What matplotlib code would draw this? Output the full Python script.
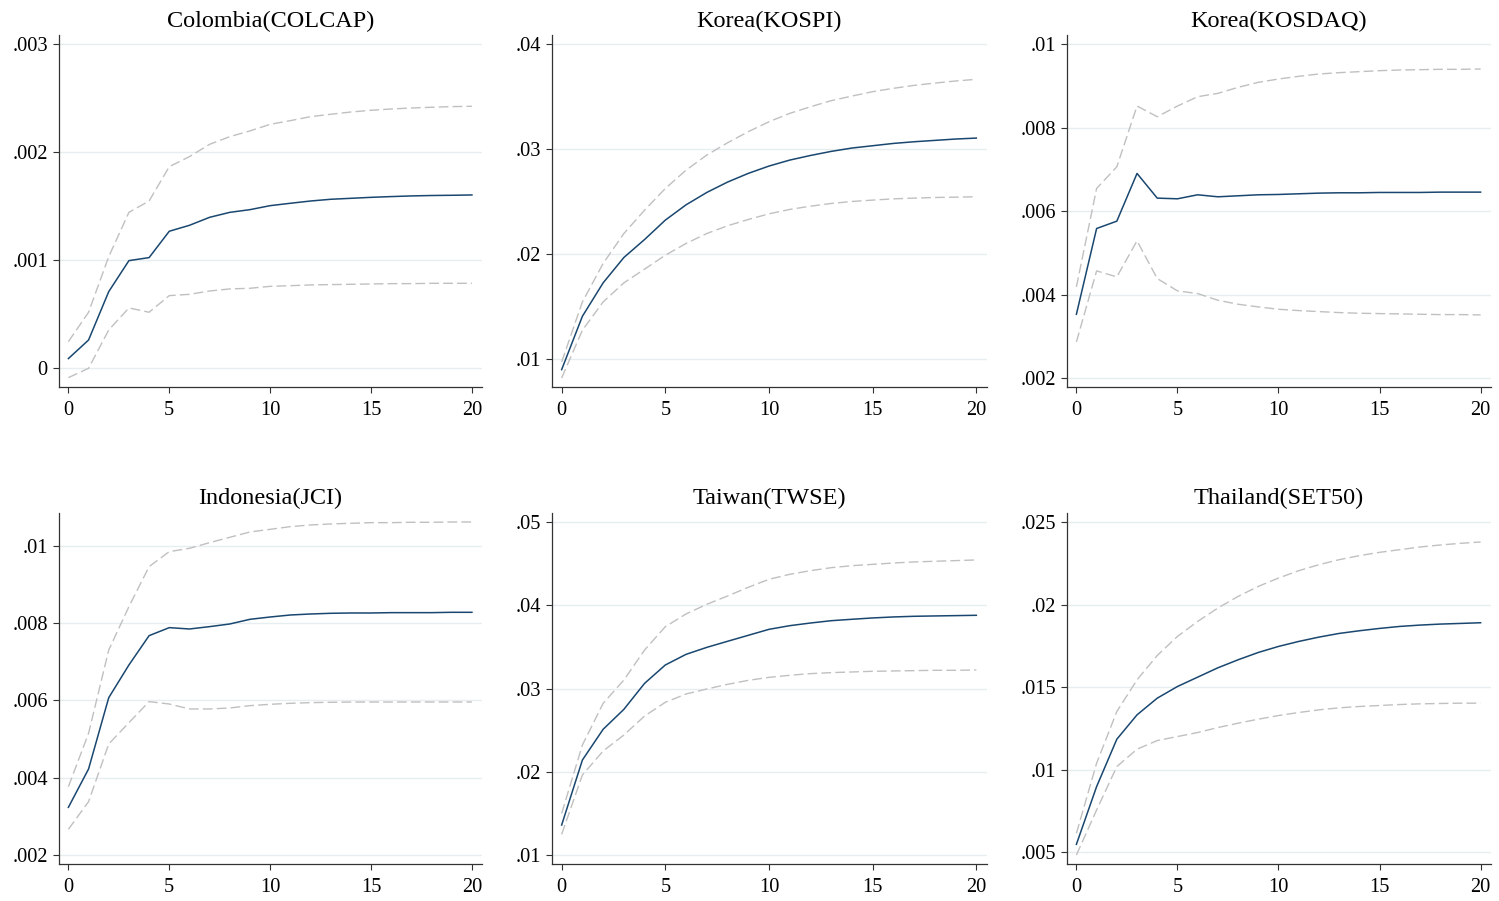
import matplotlib
matplotlib.use("Agg")
import matplotlib.pyplot as plt

plt.rcParams['font.family'] = ['Liberation Serif', 'DejaVu Serif']

steps = list(range(21))

titles = ["Colombia(COLCAP)", "Korea(KOSPI)", "Korea(KOSDAQ)",
          "Indonesia(JCI)", "Taiwan(TWSE)", "Thailand(SET50)"]

col_irf = [0.00009, 0.000262, 0.00071, 0.000997, 0.001025, 0.001269, 0.001324, 0.001398, 0.001444, 0.001469,
           0.001506, 0.001528, 0.001549, 0.001565, 0.001574, 0.001583, 0.00159, 0.001596, 0.0016, 0.001602, 0.001605]
col_hi = [0.000247, 0.000519, 0.001034, 0.001444, 0.001549, 0.001867, 0.00196, 0.002074, 0.002145, 0.002198,
          0.002259, 0.002293, 0.00233, 0.002352, 0.002373, 0.002389, 0.002401, 0.00241, 0.002417, 0.002423, 0.002426]
col_lo = [-0.000086, 0.0, 0.000355, 0.000559, 0.000519, 0.000673, 0.000685, 0.000716, 0.000735, 0.000741,
          0.000759, 0.000765, 0.000772, 0.000775, 0.000778, 0.000781, 0.000784, 0.000784, 0.000787, 0.000787, 0.000787]

kospi_irf = [0.00895, 0.01404, 0.01723, 0.01965, 0.02137, 0.02322, 0.02468, 0.02586, 0.02685, 0.02768,
             0.02838, 0.02895, 0.02939, 0.02978, 0.0301, 0.03032, 0.03054, 0.0307, 0.03083, 0.03096, 0.03105]
kospi_hi = [0.00968, 0.01541, 0.01908, 0.02194, 0.02417, 0.02624, 0.02799, 0.02943, 0.0306, 0.03166,
            0.03261, 0.03341, 0.03404, 0.03462, 0.03506, 0.03548, 0.0358, 0.03608, 0.0363, 0.0365, 0.03666]
kospi_lo = [0.00815, 0.01271, 0.01541, 0.01723, 0.01854, 0.01987, 0.02099, 0.02194, 0.02268, 0.02328,
            0.02382, 0.02424, 0.02455, 0.02481, 0.025, 0.02513, 0.02525, 0.02532, 0.02538, 0.02541, 0.02545]

kosdaq_irf = [0.003528, 0.005584, 0.00576, 0.006904, 0.006312, 0.006296, 0.006392, 0.006344, 0.006368, 0.006392,
              0.0064, 0.006416, 0.006432, 0.00644, 0.00644, 0.006448, 0.006448, 0.006448, 0.006456, 0.006456, 0.006456]
kosdaq_hi = [0.004184, 0.006544, 0.007064, 0.00852, 0.008264, 0.00852, 0.008744, 0.008824, 0.008968, 0.009088,
             0.009168, 0.009232, 0.009288, 0.00932, 0.009344, 0.009368, 0.009384, 0.009392, 0.0094, 0.0094, 0.009408]
kosdaq_lo = [0.002864, 0.004568, 0.004424, 0.005288, 0.004384, 0.004088, 0.004024, 0.003864, 0.003768, 0.003704,
             0.003648, 0.003616, 0.003592, 0.003568, 0.003552, 0.003544, 0.003536, 0.003528, 0.00352, 0.00352, 0.003512]

jci_irf = [0.003228, 0.004223, 0.006073, 0.006921, 0.007682, 0.00789, 0.007855, 0.007916, 0.007985, 0.008106,
           0.008166, 0.008218, 0.008244, 0.008262, 0.00827, 0.00827, 0.008279, 0.008279, 0.008279, 0.008288, 0.008288]
jci_hi = [0.003764, 0.005148, 0.00731, 0.008435, 0.009473, 0.009862, 0.009948, 0.010095, 0.010234, 0.010372,
          0.010441, 0.01051, 0.010554, 0.01058, 0.010597, 0.010614, 0.010614, 0.010623, 0.010623, 0.010631, 0.010631]
jci_lo = [0.002657, 0.003375, 0.004871, 0.005425, 0.00597, 0.005909, 0.00578, 0.00578, 0.005806, 0.005866,
          0.005901, 0.005927, 0.005944, 0.005953, 0.00596, 0.00596, 0.00596, 0.005961, 0.005961, 0.005961, 0.005961]

twse_irf = [0.01357, 0.02139, 0.02509, 0.02749, 0.03062, 0.03283, 0.03411, 0.03495, 0.03568, 0.0364,
            0.03712, 0.03756, 0.03788, 0.03816, 0.03833, 0.03849, 0.03861, 0.03869, 0.03873, 0.03877, 0.03881]
twse_hi = [0.01497, 0.0232, 0.02821, 0.03102, 0.03463, 0.03744, 0.03897, 0.04013, 0.04113, 0.04218,
           0.04314, 0.04374, 0.04418, 0.04454, 0.04478, 0.04494, 0.0451, 0.04523, 0.04531, 0.04539, 0.04547]
twse_lo = [0.01245, 0.01959, 0.02248, 0.0244, 0.02669, 0.02834, 0.02934, 0.02994, 0.0305, 0.03098,
           0.03134, 0.03159, 0.03179, 0.03191, 0.03199, 0.03207, 0.03211, 0.03215, 0.03219, 0.03219, 0.03223]

set50_irf = [0.005466, 0.008968, 0.011842, 0.01332, 0.014332, 0.01504, 0.015607, 0.016174, 0.01666, 0.017105,
             0.01747, 0.017773, 0.018036, 0.018259, 0.018421, 0.018563, 0.018684, 0.018765, 0.018826, 0.018866, 0.018907]
set50_hi = [0.006134, 0.010385, 0.013522, 0.015445, 0.016923, 0.018077, 0.018988, 0.019798, 0.020506, 0.021113,
            0.021619, 0.022065, 0.022429, 0.022733, 0.022976, 0.023178, 0.02334, 0.023502, 0.023623, 0.023725, 0.023806]
set50_lo = [0.004818, 0.00755, 0.010182, 0.011235, 0.011761, 0.012004, 0.012247, 0.01255, 0.012814, 0.013057,
            0.013279, 0.013462, 0.013623, 0.013745, 0.013826, 0.013887, 0.013947, 0.013988, 0.014008, 0.014028, 0.014028]

irfs = [col_irf, kospi_irf, kosdaq_irf, jci_irf, twse_irf, set50_irf]
his = [col_hi, kospi_hi, kosdaq_hi, jci_hi, twse_hi, set50_hi]
los = [col_lo, kospi_lo, kosdaq_lo, jci_lo, twse_lo, set50_lo]

yticks = [[0, 0.001, 0.002, 0.003],
          [0.01, 0.02, 0.03, 0.04],
          [0.002, 0.004, 0.006, 0.008, 0.01],
          [0.002, 0.004, 0.006, 0.008, 0.01],
          [0.01, 0.02, 0.03, 0.04, 0.05],
          [0.005, 0.01, 0.015, 0.02, 0.025]]
ytick_labels = [["0", ".001", ".002", ".003"],
                [".01", ".02", ".03", ".04"],
                [".002", ".004", ".006", ".008", ".01"],
                [".002", ".004", ".006", ".008", ".01"],
                [".01", ".02", ".03", ".04", ".05"],
                [".005", ".01", ".015", ".02", ".025"]]
ylims = [(-0.000173, 0.003086), (0.00729, 0.04089), (0.001784, 0.010223),
         (0.00175, 0.010872), (0.008845, 0.051155), (0.004254, 0.025583)]
xticks = [0, 5, 10, 15, 20]

W, H = 1499, 901
lefts = [58.7, 551.7, 1066.7]
rights = [482, 986.7, 1490.7]
rows = [(35, 387), (512.7, 864.3)]

fig = plt.figure(figsize=(W / 100, H / 100), dpi=100)
fig.patch.set_facecolor('white')

navy = '#1a476f'
gray = '#c0c0c0'
gridc = '#e6eef0'

for k in range(6):
    r, c = divmod(k, 3)
    top, bot = rows[r]
    l, rr = lefts[c], rights[c]
    ax = fig.add_axes([l / W, (H - bot) / H, (rr - l) / W, (bot - top) / H])
    ax.set_facecolor('white')
    ax.plot(steps, his[k], color=gray, lw=1.0, dashes=(7, 3), zorder=2)
    ax.plot(steps, los[k], color=gray, lw=1.0, dashes=(7, 3), zorder=2)
    ax.plot(steps, irfs[k], color=navy, lw=1.1, zorder=3)
    ax.set_xlim(-0.48, 20.5)
    ax.set_ylim(*ylims[k])
    ax.set_xticks(xticks)
    ax.set_xticklabels([str(t) for t in xticks])
    ax.set_yticks(yticks[k])
    ax.set_yticklabels(ytick_labels[k])
    ax.grid(axis='y', color=gridc, lw=1.0, zorder=0)
    ax.set_axisbelow(True)
    for s in ['top', 'right']:
        ax.spines[s].set_visible(False)
    for s in ['left', 'bottom']:
        ax.spines[s].set_color('#333333')
        ax.spines[s].set_linewidth(0.9)
    ax.tick_params(axis='both', direction='out', length=4.3, width=0.8,
                   color='#333333', labelsize=14.7, labelcolor='black')
    ax.tick_params(axis='x', pad=5.5)
    ax.tick_params(axis='y', pad=3.5)
    ax.set_title(titles[k], fontsize=17.5, pad=6, color='black')

fig.savefig('out.png', dpi=100, facecolor='white')
